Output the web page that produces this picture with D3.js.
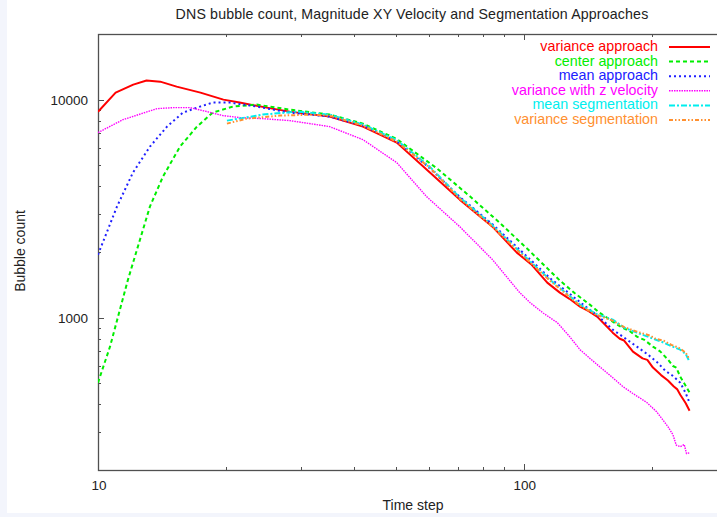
<!DOCTYPE html>
<html><head><meta charset="utf-8">
<script src="https://cdn.jsdelivr.net/npm/d3@7"></script>
<style>
html,body{margin:0;padding:0;background:#fff;overflow:hidden;}
svg{display:block;font-family:"Liberation Sans",Arial,Helvetica,sans-serif;}
</style></head><body><svg id="chart" width="717" height="517"></svg>
<script>
// Chart text
const chartTitle = "DNS bubble count, Magnitude XY Velocity and Segmentation Approaches";
const xAxisLabel = "Time step";
const yAxisLabel = "Bubble count";
const xTickLabels = [10, 100];
const yTickLabels = [1000, 10000];
const xDomain = [10, 300];
const yDomain = [200, 20000];

// Series names (legend order)
const seriesNames = ["variance approach", "center approach", "mean approach",
  "variance with z velocity", "mean segmentation", "variance segmentation"];

// [time step, bubble count]
const varianceApproach = [[10,8800],[11,10770],[12.1,11720],[13,12230],[14,12090],[15.3,11470],[17.4,10770],
  [19.7,10000],[21.5,9690],[24.9,9190],[28.2,8810],[35,8356],[41.9,7517],[50.3,6350],[59.1,4776],[70.7,3478],
  [84.4,2615],[96.3,1987],[104,1760],[113.5,1447],[121.5,1302],[128,1220],[135.5,1123],[142,1070],[148.6,1011],
  [155,930],[161.7,853],[168,800],[172,785],[180.4,698],[190,650],[195,640],[201,590],[210,545],[218,515],
  [225,483],[229,470],[233,443],[240,405],[245,374]];
const centerApproach = [[10,503],[10.67,736],[11.76,1494],[13.24,3230],[14.21,4435],[15.58,6086],[17.07,7517],
  [18.6,8720],[20.74,9290],[23.6,9490],[28.2,8997],[35,8536],[41.9,7762],[50.3,6600],[62.4,4850],[74.7,3600],
  [87.8,2720],[101.6,2080],[121.5,1480],[132,1290],[142.9,1147],[150,1060],[161.7,959],[170,900],[177,870],
  [184.3,818],[192,790],[201,736],[209,700],[218,642],[224,600],[228,590],[233,536],[238,500],[245,453]];
const meanApproach = [[10,1945],[11.08,3230],[12.08,4626],[13.24,6086],[14.52,7517],[15.83,8720],[17.35,9290],
  [18.6,9690],[20.41,9690],[23.6,9290],[28.2,8720],[35,8356],[41.9,7598],[50.3,6450],[60.1,4850],[70.7,3580],
  [84.4,2680],[97.8,2050],[115.1,1520],[126,1320],[137.6,1150],[150,1010],[161.7,881],[172,810],[184.3,736],
  [195,680],[206,622],[215,570],[224,540],[233,503],[240,450],[245,407]];
const varianceZVelocity = [[10,7057],[11.45,8095],[13.76,9090],[15,9190],[16.45,9190],[18.03,8810],[19.65,8447],
  [21.55,8270],[24.36,8180],[28.2,8011],[35,7517],[41.9,6553],[50.3,5140],[59.1,3590],[70.7,2615],[84.4,1846],
  [97.8,1302],[103.4,1172],[111,1050],[119.8,949],[128,820],[135.5,713],[143,650],[150.6,596],[160,540],
  [170.8,483],[180,450],[194.8,407],[205,370],[212,340],[218,316],[224,290],[228,260],[233,256],[238,262],
  [241,238],[245,240]];
const meanSegmentation = [[20.08,8011],[24.36,8536],[29.3,8810],[35,8536],[41.9,7680],[50.3,6520],[60.1,4930],
  [70.7,3560],[84.4,2650],[97.8,2009],[115.1,1494],[135.5,1147],[148,1040],[161.7,979],[172,900],[184.3,853],
  [198,810],[205,790],[213,768],[222,740],[233,713],[240,680],[245,628]];
const varianceSegmentation = [[20.08,7762],[22.35,8180],[26.74,8447],[31.9,8536],[35,8447],[41.9,7598],
  [50.3,6417],[60.1,4876],[70.7,3514],[84.4,2615],[97.8,1987],[115.1,1478],[135.5,1135],[148,1030],[161.7,969],
  [172,905],[184.3,862],[198,827],[204,800],[213,784],[222,750],[228,735],[233,721],[240,690],[245,642]];

const seriesData = [varianceApproach, centerApproach, meanApproach, varianceZVelocity, meanSegmentation, varianceSegmentation];
const seriesColors = ["#ff0000", "#00ee00", "#2020ff", "#ff00ff", "#00eeee", "#ff9030"];
const seriesDash = [null, "4,3", "2,3", "1.5,1", "6,2,2,2", "4,2,1.5,2,1.5,2"];
const seriesWidth = [2, 2, 2, 1.4, 2, 2];

const svg = d3.select("#chart");
const W = 717, H = 517;
const plot = {left: 98, top: 34, bottom: 470, right: 727};

// page backdrop strips
svg.append("rect").attr("width", W).attr("height", H).attr("fill", "#f3f5fc");
svg.append("rect").attr("x", 7).attr("y", 0).attr("width", W - 7).attr("height", 513).attr("fill", "#ffffff");

const x = d3.scaleLog().domain(xDomain).range([plot.left, plot.right]);
const y = d3.scaleLog().domain(yDomain).range([plot.bottom, plot.top]);

const axisColor = "#505050";
const g = svg.append("g");

// ticks (inward, on all four sides)
function logTicks(domain) {
  const out = [];
  for (let p = Math.floor(Math.log10(domain[0])); p <= Math.ceil(Math.log10(domain[1])); p++) {
    for (let m = 1; m <= 9; m++) {
      const v = m * Math.pow(10, p);
      if (v >= domain[0] * 0.999 && v <= domain[1] * 1.001) out.push({v, major: m === 1});
    }
  }
  return out;
}
const xt = logTicks(xDomain), yt = logTicks(yDomain);
xt.forEach(t => {
  const px = Math.round(x(t.v)) + 0.5, len = t.major ? 6 : 3;
  g.append("line").attr("x1", px).attr("x2", px).attr("y1", plot.bottom).attr("y2", plot.bottom - len).attr("stroke", axisColor);
  g.append("line").attr("x1", px).attr("x2", px).attr("y1", plot.top).attr("y2", plot.top + len).attr("stroke", axisColor);
});
yt.forEach(t => {
  const py = Math.round(y(t.v)) + 0.5, len = t.major ? 6 : 3;
  g.append("line").attr("x1", plot.left).attr("x2", plot.left + len).attr("y1", py).attr("y2", py).attr("stroke", axisColor);
  g.append("line").attr("x1", plot.right).attr("x2", plot.right - len).attr("y1", py).attr("y2", py).attr("stroke", axisColor);
});

// frame
g.append("rect").attr("x", plot.left + 0.5).attr("y", plot.top + 0.5)
  .attr("width", plot.right - plot.left).attr("height", plot.bottom - plot.top)
  .attr("fill", "none").attr("stroke", axisColor).attr("stroke-width", 1.3);

// tick labels
const lblFont = 13.5;
xTickLabels.forEach(v => {
  svg.append("text").attr("x", x(v) + 1).attr("y", 490).attr("text-anchor", "middle")
    .attr("font-size", lblFont).attr("fill", "#222").text(v);
});
yTickLabels.forEach(v => {
  svg.append("text").attr("x", 88).attr("y", y(v) + 5).attr("text-anchor", "end")
    .attr("font-size", lblFont).attr("fill", "#222").text(v);
});

// titles
svg.append("text").attr("x", 412).attr("y", 19).attr("text-anchor", "middle")
  .attr("font-size", 14.2).attr("letter-spacing", 0.15).attr("fill", "#222").text(chartTitle);
svg.append("text").attr("x", 413).attr("y", 510).attr("text-anchor", "middle")
  .attr("font-size", 14).attr("fill", "#222").text(xAxisLabel);
svg.append("text").attr("transform", "translate(25,251) rotate(-90)").attr("text-anchor", "middle")
  .attr("font-size", 14).attr("fill", "#222").text(yAxisLabel);

// series lines
const line = d3.line().x(d => x(d[0])).y(d => y(d[1]));
svg.append("clipPath").attr("id", "plotClip").append("rect")
  .attr("x", plot.left).attr("y", plot.top).attr("width", plot.right - plot.left).attr("height", plot.bottom - plot.top);
const lines = svg.append("g").attr("clip-path", "url(#plotClip)");
seriesData.forEach((d, i) => {
  lines.append("path").datum(d).attr("d", line).attr("fill", "none")
    .attr("stroke", seriesColors[i]).attr("stroke-width", seriesWidth[i])
    .attr("stroke-dasharray", seriesDash[i]).attr("stroke-linejoin", "round");
});

// legend
const legendTextX = 658, legendY0 = 51, legendStep = 14.6;
seriesNames.forEach((name, i) => {
  const yy = legendY0 + i * legendStep;
  svg.append("text").attr("x", legendTextX).attr("y", yy).attr("text-anchor", "end")
    .attr("font-size", 14.3).attr("fill", seriesColors[i]).text(name);
  svg.append("line").attr("x1", 669).attr("x2", 710).attr("y1", yy - 4).attr("y2", yy - 4)
    .attr("stroke", seriesColors[i]).attr("stroke-width", seriesWidth[i])
    .attr("stroke-dasharray", seriesDash[i]);
});
</script></body></html>
